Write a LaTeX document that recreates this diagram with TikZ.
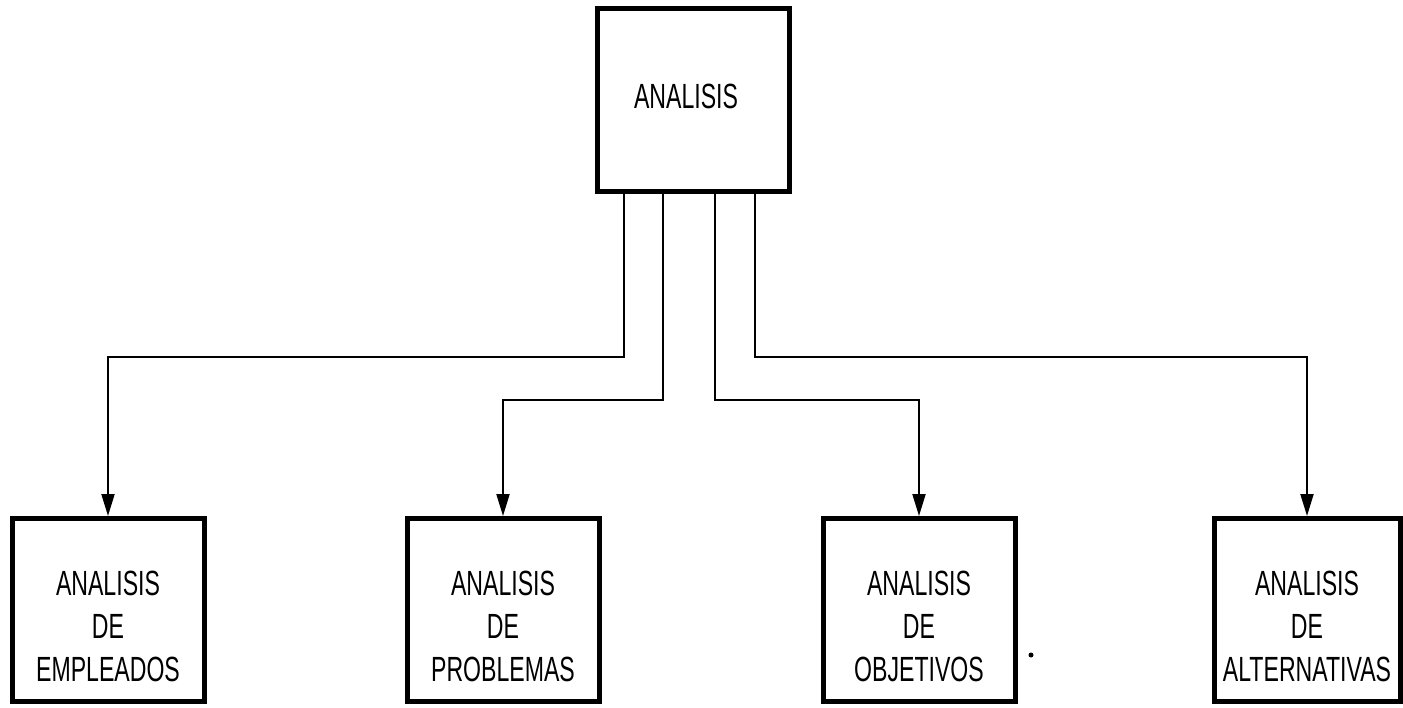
\documentclass[tikz,border=0pt]{standalone}
\usepackage{fontspec}
\setmainfont{Liberation Sans}[FakeStretch=0.66]
\usetikzlibrary{arrows.meta}
\newcommand{\firststrut}{\rule{0pt}{58pt}}
\begin{document}
\begin{tikzpicture}[x=1pt,y=-1pt,
  box/.style={draw, line width=5pt, minimum width=192pt, minimum height=183pt, inner sep=0pt,
    align=center, font=\fontsize{35}{43}\selectfont},
  conn/.style={line width=2pt, -{Triangle[width=13pt,length=22pt]}}]
\useasboundingbox (0,0) rectangle (1403,708);
\node[box] (top) at (693,100) {\raisebox{8pt}{ANALISIS}\hspace*{14pt}};
\node[box] (b1) at (108,610) {\firststrut ANALISIS\\DE\\EMPLEADOS};
\node[box] (b2) at (503,610) {\firststrut ANALISIS\\DE\\PROBLEMAS};
\node[box] (b3) at (919,610) {\firststrut ANALISIS\\DE\\OBJETIVOS};
\node[box, minimum width=186pt] (b4) at (1307,610) {\firststrut ANALISIS\\DE\\ALTERNATIVAS};
\draw[conn] ([xshift=-69pt]top.south) -- ++(0,163) -| (b1.north);
\draw[conn] ([xshift=-30pt]top.south) -- ++(0,206) -| (b2.north);
\draw[conn] ([xshift=22pt]top.south) -- ++(0,206) -| (b3.north);
\draw[conn] ([xshift=62pt]top.south) -- ++(0,163) -| (b4.north);
\fill (1031,655) circle (2.5pt);
\end{tikzpicture}
\end{document}
